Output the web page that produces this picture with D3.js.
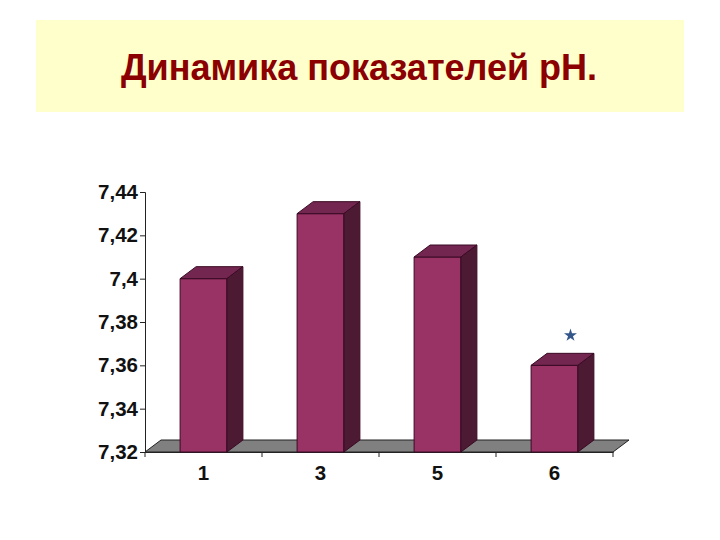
<!doctype html>
<meta charset=utf8>
<title>Динамика показателей pH.</title>
<style>
  html, body { margin: 0; background: white; }
  svg { display: block; font-family: "Liberation Sans", Arial, sans-serif; font-weight: bold; }
  .axis path, .axis line { stroke: #222; stroke-width: 1; }
  .axis text { fill: #111; font-size: 20.5px; font-weight: bold; font-family: "Liberation Sans", Arial, sans-serif; }
  .bar path { stroke: #3a0a24; stroke-width: 1; stroke-linejoin: round; }
</style>
<svg width=720 height=540></svg>
<script src=https://d3js.org/d3.v7.min.js></script>
<script>
  var title = 'Динамика показателей pH.';
  var categories = ['1', '3', '5', '6'];
  var values = [7.4, 7.43, 7.41, 7.36];
  var yTicks = [7.32, 7.34, 7.36, 7.38, 7.4, 7.42, 7.44];
  var starred = ['6'];

  var left = 145, right = 613, top_ = 192, bottom = 452;
  var depthX = 16, depthY = 12;

  var svg = d3.select('svg');

  svg.append('rect')
    .attr('x', 36).attr('y', 20)
    .attr('width', 648).attr('height', 92)
    .attr('fill', '#ffffcc');

  svg.append('text')
    .attr('x', 359).attr('y', 80)
    .attr('text-anchor', 'middle')
    .attr('font-size', 36)
    .attr('fill', '#8b0000')
    .text(title);

  var x = d3.scaleBand().domain(categories).range([left, right]).paddingInner(0.6).paddingOuter(0.3);
  var band = d3.scaleBand().domain(categories).range([left, right]);
  var y = d3.scaleLinear().domain([7.32, 7.44]).range([bottom, top_]);

  // floor of the 3d box
  svg.append('path')
    .attr('d', d3.line()([[left, bottom], [right, bottom], [right + depthX, bottom - depthY], [left + depthX, bottom - depthY]]) + 'Z')
    .attr('fill', '#808080')
    .attr('stroke', '#222');

  var yAxis = d3.axisLeft(y)
    .tickValues(yTicks)
    .tickSize(5)
    .tickPadding(2)
    .tickFormat(function(d) { return String(d).replace('.', ','); });

  svg.append('g')
    .attr('class', 'axis')
    .attr('transform', 'translate(' + left + ',0)')
    .call(yAxis);

  var xAxis = d3.axisBottom(band).tickSize(0).tickPadding(13);

  var xg = svg.append('g')
    .attr('class', 'axis')
    .attr('transform', 'translate(0,' + bottom + ')')
    .call(xAxis);

  // ticks sit between the categories, not under them
  var edges = categories.map(function(c) { return band(c); }).concat(right);
  xg.selectAll('line.edge')
    .data(edges)
    .enter()
    .append('line')
    .attr('class', 'edge')
    .attr('x1', function(d) { return d; })
    .attr('x2', function(d) { return d; })
    .attr('y1', 0)
    .attr('y2', 5);

  var bars = svg.append('g')
    .selectAll('g')
    .data(categories)
    .enter()
    .append('g')
    .attr('class', 'bar');

  function val(c) { return values[categories.indexOf(c)]; }

  // front
  bars.append('path')
    .attr('fill', '#993366')
    .attr('d', function(c) {
      var x0 = x(c), x1 = x0 + x.bandwidth();
      return d3.line()([[x0, y(val(c))], [x1, y(val(c))], [x1, bottom], [x0, bottom]]) + 'Z';
    });

  // top
  bars.append('path')
    .attr('fill', '#732650')
    .attr('d', function(c) {
      var x0 = x(c), x1 = x0 + x.bandwidth(), t = y(val(c));
      return d3.line()([[x0, t], [x1, t], [x1 + depthX, t - depthY], [x0 + depthX, t - depthY]]) + 'Z';
    });

  // side
  bars.append('path')
    .attr('fill', '#4d1a33')
    .attr('d', function(c) {
      var x1 = x(c) + x.bandwidth(), t = y(val(c));
      return d3.line()([[x1, t], [x1 + depthX, t - depthY], [x1 + depthX, bottom - depthY], [x1, bottom]]) + 'Z';
    });

  svg.selectAll('path.star')
    .data(starred)
    .enter()
    .append('path')
    .attr('class', 'star')
    .attr('d', d3.symbol().type(d3.symbolStar).size(52))
    .attr('fill', '#34568b')
    .attr('transform', function(c) {
      return 'translate(' + (x(c) + x.bandwidth() / 2 + 16) + ',' + (y(val(c)) - 30) + ')';
    });
</script>
